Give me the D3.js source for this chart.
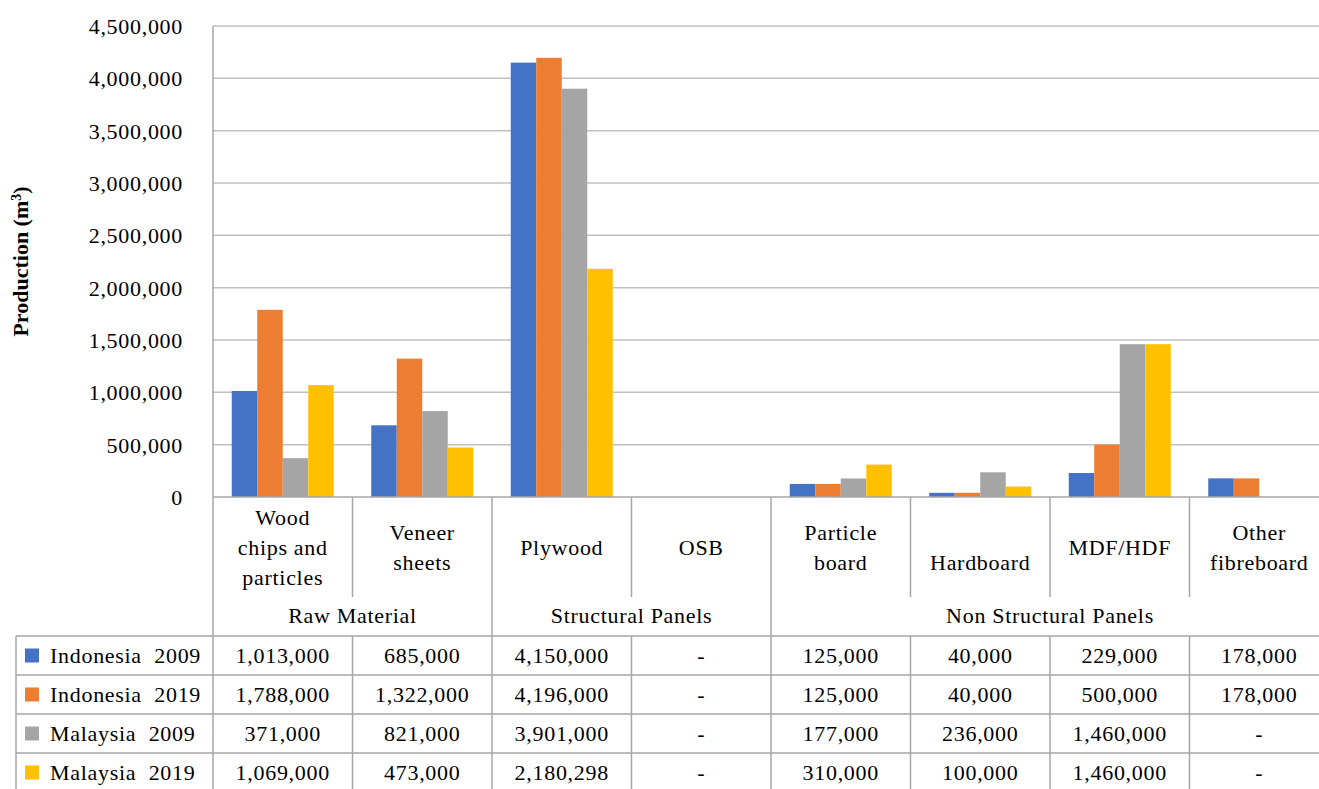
<!DOCTYPE html>
<html>
<head>
<meta charset="utf-8">
<script src="https://cdn.jsdelivr.net/npm/d3@7"></script>
<style>
  html, body { margin: 0; padding: 0; background: #fff; }
  svg { display: block; font-family: "Liberation Serif", "Times New Roman", serif; }
  .lbl { letter-spacing: 0.7px; }
</style>
</head>
<body>
<svg id="chart" width="1319" height="789"></svg>
<script>
// Wood panel production by product type (m³)
const categories = ["Wood chips and particles", "Veneer sheets", "Plywood", "OSB",
                    "Particle board", "Hardboard", "MDF/HDF", "Other fibreboard"];
// Category label lines as wrapped in the axis cells (blank line keeps vertical slot)
const categoryLines = [
  ["Wood", "chips and", "particles"],
  ["Veneer", "sheets"],
  ["Plywood"],
  ["OSB"],
  ["Particle", "board"],
  ["", "Hardboard"],
  ["MDF/HDF"],
  ["Other", "fibreboard"]
];
const groups = ["Raw Material", "Structural Panels", "Non Structural Panels"];
const groupSpans = [[0, 2], [2, 4], [4, 8]];

const seriesNames = ["Indonesia  2009", "Indonesia  2019", "Malaysia  2009", "Malaysia  2019"];
const indonesia2009 = [1013000, 685000, 4150000, null, 125000, 40000, 229000, 178000];
const indonesia2019 = [1788000, 1322000, 4196000, null, 125000, 40000, 500000, 178000];
const malaysia2009  = [371000, 821000, 3901000, null, 177000, 236000, 1460000, null];
const malaysia2019  = [1069000, 473000, 2180298, null, 310000, 100000, 1460000, null];
const seriesValues = [indonesia2009, indonesia2019, malaysia2009, malaysia2019];
const seriesColors = ["#4472C4", "#ED7D31", "#A5A5A5", "#FFC000"];

const yTicks = [0, 500000, 1000000, 1500000, 2000000, 2500000, 3000000, 3500000, 4000000, 4500000];

const svg = d3.select("#chart");
const plotLeft = 213, plotRight = 1329, plotTop = 26, plotBottom = 497;
const fmt = d3.format(",");
const gridColor = "#c0c0c0";
const lineColor = "#a6a6a6";
const fs = 22;

const x = d3.scaleBand().domain(categories).range([plotLeft, plotRight]).padding(0);
const xs = d3.scaleBand().domain(d3.range(4)).range([0, x.bandwidth()])
  .paddingInner(0).paddingOuter(0.735);
const y = d3.scaleLinear().domain([0, 4500000]).range([plotBottom, plotTop]);

// gridlines and value axis labels
const yAxis = d3.axisLeft(y).tickValues(yTicks).tickFormat(fmt).tickSize(0).tickPadding(30);
const gy = svg.append("g").attr("transform", `translate(${plotLeft},0)`).call(yAxis);
gy.select(".domain").remove();
gy.selectAll("text").attr("class", "lbl").attr("font-size", fs).attr("fill", "#000")
  .attr("font-family", "Liberation Serif, serif").attr("dy", "0.34em");

svg.append("g").selectAll("line").data(yTicks.filter(d => d > 0)).join("line")
  .attr("x1", plotLeft).attr("x2", plotRight)
  .attr("y1", d => y(d)).attr("y2", d => y(d))
  .attr("stroke", gridColor).attr("stroke-width", 1.5);

// bars
const gBars = svg.append("g");
seriesValues.forEach((vals, si) => {
  gBars.selectAll(null).data(vals.map((v, i) => ({ v, c: categories[i] })).filter(d => d.v != null))
    .join("rect")
    .attr("x", d => x(d.c) + xs(si))
    .attr("width", xs.bandwidth())
    .attr("y", d => y(d.v))
    .attr("height", d => y(0) - y(d.v))
    .attr("fill", seriesColors[si]);
});

// axis title
svg.append("text")
  .attr("transform", `translate(28,${(plotTop + plotBottom) / 2}) rotate(-90)`)
  .attr("text-anchor", "middle")
  .attr("font-weight", "bold").attr("font-size", 22)
  .html('Production (m<tspan baseline-shift="super" font-size="14">3</tspan>)');

// category axis table
const catTop = plotBottom, catBottom = 597, groupBottom = 636;
const rowH = 39;
const tableBottom = groupBottom + rowH * 4;
const lines = svg.append("g").attr("stroke", lineColor).attr("stroke-width", 1.5);

// horizontal lines
lines.append("line").attr("x1", plotLeft).attr("x2", plotRight).attr("y1", catTop).attr("y2", catTop);
for (let r = 0; r <= 4; r++) {
  const yy = groupBottom + r * rowH;
  lines.append("line").attr("x1", 16).attr("x2", plotRight).attr("y1", yy).attr("y2", yy);
}
// left value axis / table edge
lines.append("line").attr("x1", plotLeft).attr("x2", plotLeft).attr("y1", plotTop).attr("y2", tableBottom);
lines.append("line").attr("x1", 16).attr("x2", 16).attr("y1", groupBottom).attr("y2", tableBottom);
// category separators
categories.forEach((c, i) => {
  if (i === 0) return;
  const xx = x(c);
  const isGroupEdge = groupSpans.some(s => s[0] === i);
  lines.append("line").attr("x1", xx).attr("x2", xx)
    .attr("y1", catTop).attr("y2", isGroupEdge ? tableBottom : catBottom);
  if (!isGroupEdge) {
    lines.append("line").attr("x1", xx).attr("x2", xx)
      .attr("y1", groupBottom).attr("y2", tableBottom);
  }
});
lines.append("line").attr("x1", plotRight).attr("x2", plotRight).attr("y1", plotTop).attr("y2", tableBottom);

// category labels, each block centred vertically in its cell
const labelMid = 547, lineGap = 30;
categories.forEach((c, i) => {
  const ls = categoryLines[i];
  ls.forEach((t, li) => {
    if (!t) return;
    const yy = labelMid + (li - (ls.length - 1) / 2) * lineGap;
    svg.append("text").attr("class", "lbl").attr("x", x(c) + x.bandwidth() / 2).attr("y", yy)
      .attr("dy", "0.35em").attr("text-anchor", "middle").attr("font-size", fs).text(t);
  });
});

// group labels
groups.forEach((g, gi) => {
  const [a, b] = groupSpans[gi];
  const x0 = x(categories[a]);
  const x1 = b >= categories.length ? plotRight : x(categories[b]);
  svg.append("text").attr("class", "lbl").attr("x", (x0 + x1) / 2).attr("y", 615)
    .attr("dy", "0.35em").attr("text-anchor", "middle").attr("font-size", fs).text(g);
});

// data table rows with legend keys
seriesValues.forEach((vals, si) => {
  const cy = groupBottom + si * rowH + rowH / 2;
  svg.append("rect").attr("x", 25).attr("y", cy - 7).attr("width", 14).attr("height", 14)
    .attr("fill", seriesColors[si]);
  svg.append("text").attr("class", "lbl").attr("x", 50).attr("y", cy).attr("dy", "0.35em")
    .attr("font-size", fs).style("white-space", "pre").text(seriesNames[si]);
  vals.forEach((v, i) => {
    svg.append("text").attr("class", "lbl").attr("x", x(categories[i]) + x.bandwidth() / 2).attr("y", cy)
      .attr("dy", "0.35em").attr("text-anchor", "middle").attr("font-size", fs)
      .text(v == null ? "-" : fmt(v));
  });
});
</script>
</body>
</html>
